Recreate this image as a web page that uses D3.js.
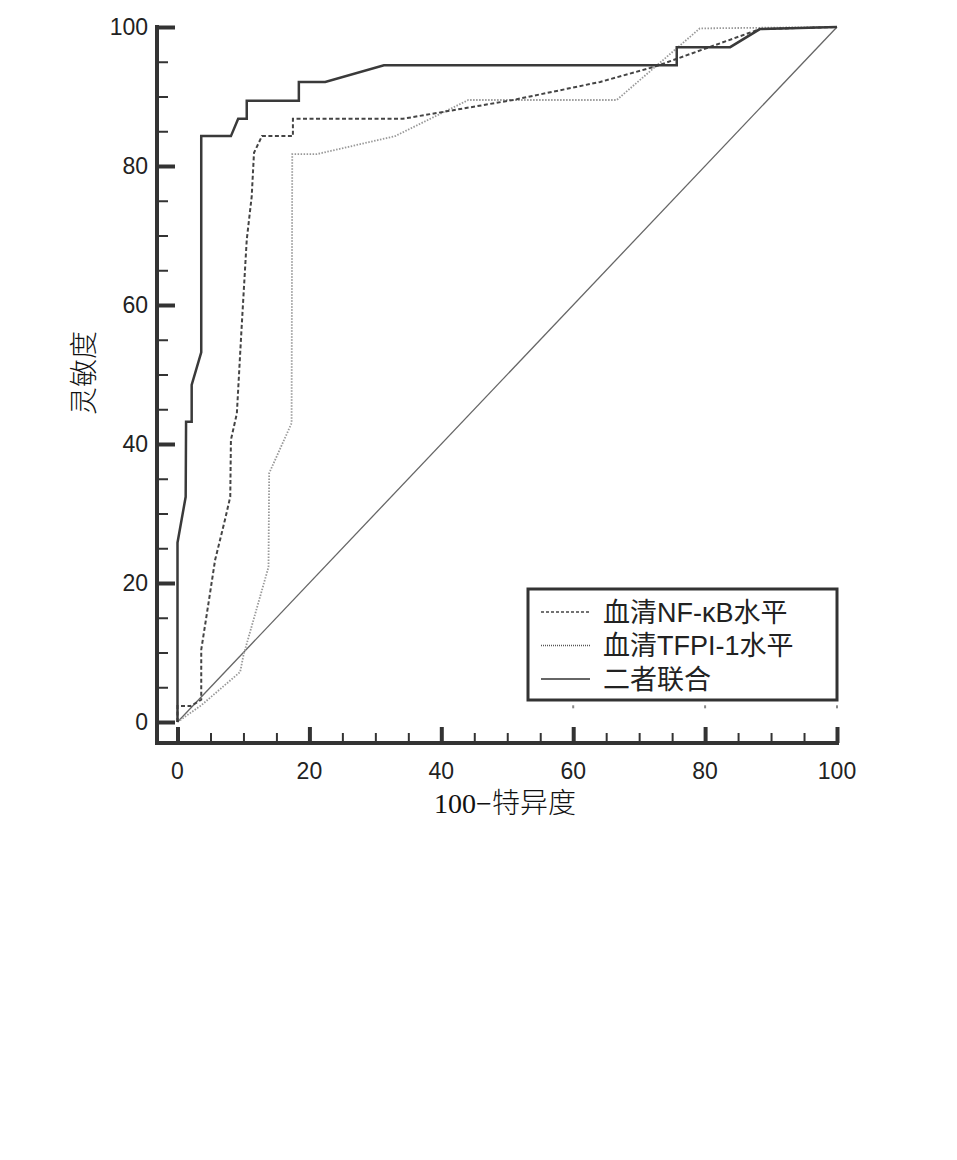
<!DOCTYPE html>
<html><head><meta charset="utf-8">
<script src="https://cdn.jsdelivr.net/npm/d3@7"></script>
<style>body{margin:0;background:#fff}svg{display:block}</style>
</head><body>
<svg id="c" width="957" height="1160"></svg>
<script>
const seriesNames = ["血清NF-κB水平", "血清TFPI-1水平", "二者联合"];
const xTicks = [0, 20, 40, 60, 80, 100];
const yTicks = [0, 20, 40, 60, 80, 100];
const xTitle = "100−特异度";
const yTitle = "灵敏度";
// [100-specificity, sensitivity]
const nfkb = [[0,0],[0,2.3],[2.0,2.3],[3.6,3.2],[3.6,10.4],[4.7,17.1],[5.7,23.3],[7.2,29.1],[8.0,32.4],[8.1,40.6],[9.0,44.4],[9.7,56.4],[10.5,69.4],[11.25,75.6],[11.6,81.9],[12.8,84.3],[17.5,84.3],[17.5,86.8],[34.2,86.8],[50.9,89.5],[64.1,92.1],[72.4,94.3],[88.3,99.7],[100,100]];
const tfpi = [[0,0],[3.6,2.4],[9.5,7.2],[10.0,9.6],[13.8,22.3],[13.9,35.8],[17.3,43.0],[17.4,81.7],[21.1,81.7],[33.0,84.3],[44.1,89.5],[66.6,89.5],[79.2,99.8],[100,100]];
const combined = [[0,0],[0,25.8],[1.24,32.4],[1.3,43.2],[2.15,43.2],[2.15,48.5],[3.6,53.2],[3.6,84.3],[8.1,84.3],[9.2,86.8],[10.5,86.8],[10.5,89.4],[18.4,89.4],[18.4,92.1],[22.4,92.1],[31.3,94.5],[75.7,94.5],[75.7,97.1],[83.8,97.1],[88.3,99.7],[100,100]];
const diagonal = [[0,0],[100,100]];
const hiddenMarks = [60, 80, 100];

const svg = d3.select("#c");
const x = d3.scaleLinear().domain([0,100]).range([177.5,837]);
const y = d3.scaleLinear().domain([0,100]).range([722,27]);
const axisX = 157, axisY = 743;
const axisColor = "#333";
const numFont = "Liberation Sans, Arial, sans-serif";

// Y axis
const gy = svg.append("g").attr("transform",`translate(${axisX},0)`);
gy.call(d3.axisRight(y).tickValues(d3.range(0,101,5)).tickSize(11).tickFormat(""));
gy.selectAll(".tick line").attr("stroke",axisColor).attr("stroke-width",2);
gy.select(".domain").remove();
gy.selectAll(".tick").filter(d=>d%20===0).select("line").attr("x2",18).attr("stroke-width",4);
gy.append("line").attr("x1",0).attr("x2",0).attr("y1",25).attr("y2",axisY+2).attr("stroke",axisColor).attr("stroke-width",4);
svg.append("g").selectAll("text").data(yTicks).join("text")
  .attr("x",148).attr("y",d=>y(d)).attr("dy","0.36em").attr("text-anchor","end")
  .attr("font-family",numFont).attr("font-size",23).attr("fill","#222")
  .text(d=>d);

// X axis
const gx = svg.append("g").attr("transform",`translate(0,${axisY})`);
gx.call(d3.axisTop(x).tickValues(d3.range(0,101,5)).tickSize(10).tickFormat(""));
gx.selectAll(".tick line").attr("stroke",axisColor).attr("stroke-width",2);
gx.select(".domain").remove();
gx.selectAll(".tick").filter(d=>d%20===0).select("line").attr("y2",-16).attr("stroke-width",4);
gx.append("line").attr("x1",axisX-2).attr("x2",839).attr("y1",0).attr("y2",0).attr("stroke",axisColor).attr("stroke-width",4);
svg.append("g").selectAll("text").data(xTicks).join("text")
  .attr("x",d=>x(d)).attr("y",779).attr("text-anchor","middle")
  .attr("font-family",numFont).attr("font-size",23).attr("fill","#222")
  .text(d=>d);

// titles
const titleFont = "Liberation Serif, Noto Sans CJK SC, serif";
svg.append("text").attr("x",505).attr("y",813).attr("text-anchor","middle")
  .attr("font-family",titleFont).attr("font-weight",300).attr("font-size",28).attr("fill","#111").text(xTitle);
svg.append("text").attr("transform","translate(94,373) rotate(-90)").attr("text-anchor","middle")
  .attr("font-family",titleFont).attr("font-weight",300).attr("font-size",28).attr("fill","#111").text(yTitle);

// small marks along top of legend
svg.append("g").selectAll("rect").data(hiddenMarks).join("rect")
  .attr("x",d=>x(d)-1).attr("y",y(2.4)).attr("width",2).attr("height",3).attr("fill","#888");

const line = d3.line().x(d=>x(d[0])).y(d=>y(d[1]));
const styles = [
  {data: diagonal, stroke:"#666", width:1.3, dash:null},
  {data: tfpi, stroke:"#999", width:1.8, dash:"1.5,1.5"},
  {data: nfkb, stroke:"#444", width:2, dash:"4,2.5"},
  {data: combined, stroke:"#3a3a3a", width:2.5, dash:null}
];
styles.forEach(s=>{
  svg.append("path").datum(s.data).attr("d",line).attr("fill","none")
    .attr("stroke",s.stroke).attr("stroke-width",s.width)
    .attr("stroke-dasharray",s.dash);
});

// legend
const lg = svg.append("g");
lg.append("rect").attr("x",528).attr("y",589).attr("width",309).attr("height",111)
  .attr("fill","#fff").attr("stroke","#333").attr("stroke-width",3);
const legItems = [
  {name: seriesNames[0], stroke:"#444", width:1.4, dash:"3,2"},
  {name: seriesNames[1], stroke:"#555", width:1.4, dash:"1,1"},
  {name: seriesNames[2], stroke:"#333", width:1.5, dash:null}
];
legItems.forEach((it,i)=>{
  const yy = 612 + i*33.5;
  lg.append("line").attr("x1",541).attr("x2",590).attr("y1",yy).attr("y2",yy)
    .attr("stroke",it.stroke).attr("stroke-width",it.width).attr("stroke-dasharray",it.dash);
  lg.append("text").attr("x",603).attr("y",yy).attr("dy","0.36em")
    .attr("font-family","Liberation Sans, Noto Sans CJK SC, sans-serif").attr("font-size",27).attr("fill","#222")
    .text(it.name);
});
</script>
</body></html>
